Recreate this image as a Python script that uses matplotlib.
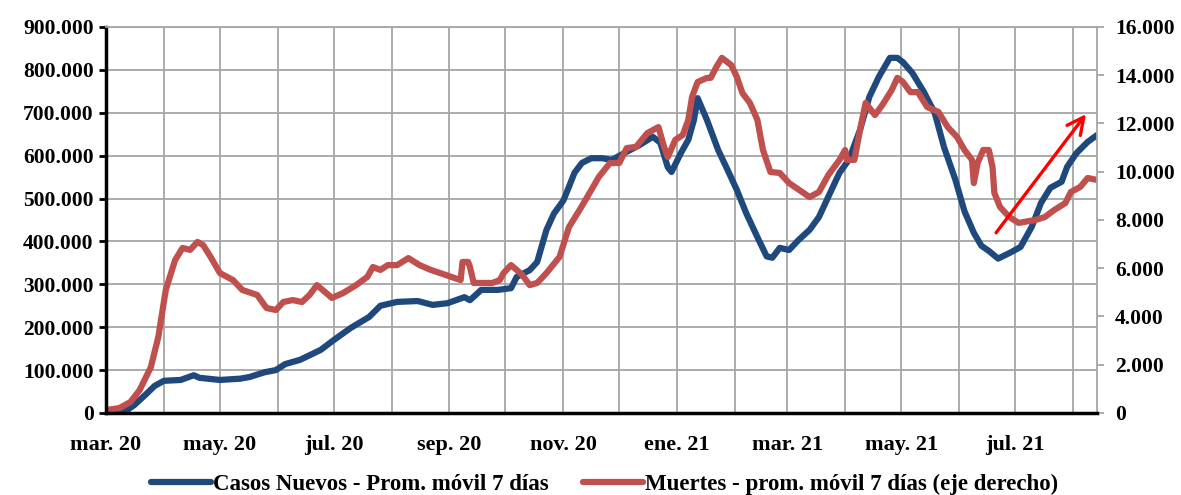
import numpy as np
import pandas as pd
import matplotlib
matplotlib.use("Agg")
import matplotlib.pyplot as plt
import matplotlib.dates as mdates
from matplotlib.ticker import FuncFormatter, MultipleLocator

# Casos nuevos - promedio movil 7 dias (eje izquierdo)
casos_fechas = [
    "2020-03-01", "2020-03-06", "2020-03-11", "2020-03-16", "2020-03-22", "2020-03-27",
    "2020-04-01", "2020-04-10", "2020-04-17", "2020-04-20", "2020-05-01", "2020-05-12",
    "2020-05-17", "2020-05-25", "2020-05-31", "2020-06-05", "2020-06-13", "2020-06-24",
    "2020-07-01", "2020-07-10", "2020-07-20", "2020-07-26", "2020-08-04", "2020-08-15",
    "2020-08-23", "2020-08-31", "2020-09-09", "2020-09-12", "2020-09-18", "2020-09-27",
    "2020-10-04", "2020-10-07", "2020-10-14", "2020-10-18", "2020-10-23", "2020-10-27",
    "2020-11-01", "2020-11-04", "2020-11-07", "2020-11-11", "2020-11-16", "2020-11-22",
    "2020-11-27", "2020-12-05", "2020-12-12", "2020-12-19", "2020-12-23", "2020-12-27",
    "2020-12-29", "2021-01-03", "2021-01-07", "2021-01-10", "2021-01-12", "2021-01-17",
    "2021-01-23", "2021-01-28", "2021-02-02", "2021-02-07", "2021-02-13", "2021-02-18",
    "2021-02-21", "2021-02-25", "2021-03-02", "2021-03-07", "2021-03-13", "2021-03-18",
    "2021-03-23", "2021-03-29", "2021-04-03", "2021-04-09", "2021-04-14", "2021-04-19",
    "2021-04-25", "2021-04-29", "2021-05-02", "2021-05-07", "2021-05-13", "2021-05-19",
    "2021-05-24", "2021-05-30", "2021-06-04", "2021-06-09", "2021-06-13", "2021-06-17",
    "2021-06-22", "2021-06-29", "2021-07-04", "2021-07-10", "2021-07-15", "2021-07-20",
    "2021-07-26", "2021-07-29", "2021-08-03", "2021-08-09", "2021-08-14",
]
casos = [
    0, 0, 3000, 18000, 42000, 63000,
    75000, 77000, 88000, 82000, 77000, 80000,
    84000, 95000, 100000, 114000, 124000, 147000,
    170000, 198000, 224000, 250000, 259000, 261000,
    252000, 256000, 270000, 263000, 287000, 287000,
    291000, 317000, 333000, 352000, 427000, 465000,
    495000, 527000, 560000, 583000, 594000, 594000,
    590000, 609000, 625000, 644000, 630000, 573000,
    562000, 606000, 637000, 683000, 734000, 683000,
    613000, 567000, 520000, 466000, 410000, 365000,
    362000, 385000, 380000, 403000, 427000, 457000,
    504000, 560000, 590000, 660000, 737000, 783000,
    828000, 828000, 818000, 793000, 750000, 700000,
    620000, 545000, 470000, 420000, 390000, 378000,
    360000, 375000, 387000, 434000, 490000, 525000,
    539000, 574000, 606000, 632000, 648000,
]

# Muertes - promedio movil 7 dias (eje derecho)
muertes_fechas = [
    "2020-03-01", "2020-03-08", "2020-03-14", "2020-03-19", "2020-03-25", "2020-03-29",
    "2020-04-02", "2020-04-07", "2020-04-11", "2020-04-15", "2020-04-19", "2020-04-22",
    "2020-04-26", "2020-05-01", "2020-05-08", "2020-05-13", "2020-05-21", "2020-05-26",
    "2020-05-31", "2020-06-04", "2020-06-09", "2020-06-14", "2020-06-18", "2020-06-22",
    "2020-06-27", "2020-06-30", "2020-07-06", "2020-07-13", "2020-07-19", "2020-07-22",
    "2020-07-26", "2020-07-30", "2020-08-04", "2020-08-10", "2020-08-16", "2020-08-22",
    "2020-08-27", "2020-09-02", "2020-09-07", "2020-09-08", "2020-09-11", "2020-09-12",
    "2020-09-14", "2020-09-19", "2020-09-24", "2020-09-28", "2020-09-30", "2020-10-04",
    "2020-10-07", "2020-10-10", "2020-10-14", "2020-10-18", "2020-10-23", "2020-10-30",
    "2020-11-04", "2020-11-10", "2020-11-16", "2020-11-20", "2020-11-26", "2020-12-01",
    "2020-12-05", "2020-12-10", "2020-12-16", "2020-12-22", "2020-12-25", "2020-12-27",
    "2020-12-31", "2021-01-04", "2021-01-07", "2021-01-09", "2021-01-12", "2021-01-17",
    "2021-01-19", "2021-01-22", "2021-01-25", "2021-01-30", "2021-02-02", "2021-02-05",
    "2021-02-09", "2021-02-13", "2021-02-16", "2021-02-20", "2021-02-25", "2021-03-02",
    "2021-03-09", "2021-03-13", "2021-03-18", "2021-03-23", "2021-03-29", "2021-04-01",
    "2021-04-02", "2021-04-06", "2021-04-09", "2021-04-12", "2021-04-17", "2021-04-21",
    "2021-04-26", "2021-04-29", "2021-05-02", "2021-05-06", "2021-05-10", "2021-05-15",
    "2021-05-21", "2021-05-26", "2021-05-31", "2021-06-04", "2021-06-08", "2021-06-09",
    "2021-06-11", "2021-06-14", "2021-06-17", "2021-06-19", "2021-06-20", "2021-06-23",
    "2021-06-28", "2021-07-03", "2021-07-06", "2021-07-12", "2021-07-17", "2021-07-22",
    "2021-07-28", "2021-07-31", "2021-08-05", "2021-08-09", "2021-08-14",
]
muertes = [
    120, 200, 450, 950, 1900, 3150,
    5100, 6340, 6840, 6760, 7090, 6960,
    6470, 5800, 5510, 5100, 4890, 4350,
    4270, 4600, 4680, 4600, 4890, 5300,
    4970, 4770, 4970, 5300, 5640, 6050,
    5930, 6130, 6130, 6420, 6130, 5930,
    5800, 5640, 5510, 6260, 6260, 6050,
    5390, 5390, 5390, 5510, 5800, 6130,
    5930, 5720, 5300, 5390, 5800, 6470,
    7700, 8450, 9240, 9780, 10360, 10360,
    10980, 11030, 11600, 11850, 11030, 10610,
    11320, 11520, 12150, 13100, 13720, 13890,
    13890, 14340, 14720, 14420, 13930, 13260,
    12850, 12150, 10900, 9990, 9950, 9530,
    9160, 8950, 9160, 9860, 10490, 10900,
    10490, 10490, 11730, 12850, 12350, 12770,
    13390, 13890, 13720, 13300, 13300, 12680,
    12480, 11850, 11440, 10900, 10490, 9530,
    10360, 10900, 10900, 10200, 9120, 8540,
    8120, 7880, 7920, 8000, 8120, 8410,
    8700, 9160, 9370, 9740, 9660,
]

meses = ["ene", "feb", "mar", "abr", "may", "jun", "jul", "ago", "sep", "oct", "nov", "dic"]

flecha_inicio = ("2021-06-20", 415000)
flecha_fin = ("2021-08-09", 702000)

azul = "#1F497D"
rojo = "#C0504D"
gris = "#A6A6A6"

plt.rcParams["font.family"] = ["Liberation Serif", "DejaVu Serif"]
plt.rcParams["font.weight"] = "bold"

fig = plt.figure(figsize=(11.81, 4.95), dpi=100)
ax = fig.add_axes([0.0898, 0.1657, 0.8391, 0.7798])
ax2 = ax.twinx()

ax.plot(pd.to_datetime(casos_fechas), casos, color=azul, lw=4.5,
        solid_capstyle="round", solid_joinstyle="round",
        label="Casos Nuevos - Prom. móvil 7 días")
ax2.plot(pd.to_datetime(muertes_fechas), muertes, color=rojo, lw=4.5,
         solid_capstyle="round", solid_joinstyle="round",
         label="Muertes - prom. móvil 7 días (eje derecho)")

ax.set_xlim(pd.Timestamp("2020-03-01"), pd.Timestamp("2021-08-14"))
ax.set_ylim(0, 900000)
ax2.set_ylim(0, 16000)

ax.yaxis.set_major_locator(MultipleLocator(100000))
ax2.yaxis.set_major_locator(MultipleLocator(2000))
miles = FuncFormatter(lambda v, p: f"{v:,.0f}".replace(",", "."))
ax.yaxis.set_major_formatter(miles)
ax2.yaxis.set_major_formatter(miles)

ax.xaxis.set_major_locator(mdates.MonthLocator(bymonth=(1, 3, 5, 7, 9, 11)))
ax.xaxis.set_minor_locator(mdates.MonthLocator())
ax.xaxis.set_major_formatter(FuncFormatter(
    lambda v, p: f"{meses[mdates.num2date(v).month - 1]}. {mdates.num2date(v).year % 100:02d}"))

ax.grid(True, which="both", axis="x", color=gris, lw=1.3)
ax.grid(True, which="major", axis="y", color=gris, lw=1.3)
ax.set_axisbelow(True)

for s in ["top", "right"]:
    ax.spines[s].set_visible(False)
ax2.spines["top"].set_color(gris)
ax2.spines["top"].set_linewidth(1.3)
ax2.spines["left"].set_linewidth(2.5)
ax2.spines["left"].set_color("black")
ax2.spines["bottom"].set_linewidth(2.5)
ax2.spines["bottom"].set_color("black")
ax2.spines["right"].set_color(gris)
ax2.spines["right"].set_linewidth(1.3)

ax.tick_params(axis="x", which="both", length=0, pad=16, labelsize=16)
ax.tick_params(axis="y", length=5, width=2, color="black", pad=4, labelsize=15.5)
ax2.tick_params(axis="y", length=5, width=1.3, color=gris, pad=8, labelsize=15.5)
for lab in ax.get_xticklabels() + ax.get_yticklabels() + ax2.get_yticklabels():
    lab.set_fontweight("bold")

x0 = mdates.date2num(pd.Timestamp(flecha_inicio[0]))
x1 = mdates.date2num(pd.Timestamp(flecha_fin[0]))
ax2.annotate("", xy=(x1, flecha_fin[1]), xytext=(x0, flecha_inicio[1]),
             xycoords=ax.transData, textcoords=ax.transData,
             arrowprops=dict(arrowstyle="->", color="#FF0000", lw=2.4, mutation_scale=30))

h1, l1 = ax.get_legend_handles_labels()
h2, l2 = ax2.get_legend_handles_labels()
fig.legend(h1 + h2, l1 + l2, loc="center", bbox_to_anchor=(0.512, 0.022), ncol=2,
           frameon=False, handlelength=2.6, columnspacing=1.5, handletextpad=0.1,
           prop={"size": 16.5, "weight": "bold"})

fig.savefig("out.png", dpi=100)
